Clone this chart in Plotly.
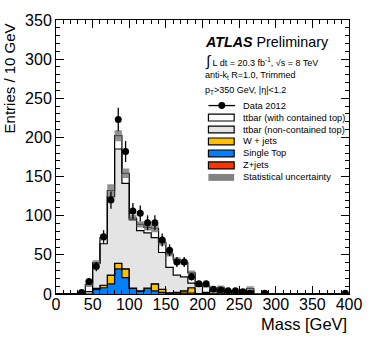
import plotly.graph_objects as go
import numpy as np

# 10 GeV bins from 0 to 400
edges = np.arange(0, 410, 10)

# per-bin yields (stacked increments)
single_top = [0, 0, 0, 0, 0, 6, 8, 13, 32, 21, 7, 3.5, 7, 4, 2, 1, 1, 1, 1, 0.5,
              0.5, 0.3, 0.3, 0, 0, 0, 0, 0, 0, 0, 0, 0, 0, 0, 0, 0, 0, 0, 0, 0]
w_jets = [0, 0, 0, 0, 0, 1, 3, 11, 7, 11, 0.5, 0.5, 0.5, 9, 4, 0.5, 1, 3, 7, 0,
          0, 0, 3, 0, 0, 0, 0, 0, 0, 0, 0, 0, 0, 0, 0, 0, 0, 0, 0, 0]
z_jets = [0, 0, 0, 0, 0, 0.2, 0.2, 0.2, 0.2, 0.2, 0.1, 0, 0, 0, 0, 0, 0, 0, 0, 0,
          0, 0, 0, 0, 0, 0, 0, 0, 0, 0, 0, 0, 0, 0, 0, 0, 0, 0, 0, 0]
ttbar_noncont = [0, 0, 0, 1, 3, 32, 53, 100, 146, 109, 87.5, 77, 70.5, 59, 47, 32.5, 22, 18, 6, 9.5,
                 1.5, 3.7, 2.7, 2, 1.5, 1, 4, 0.3, 0, 0, 0, 0, 0, 0, 0, 0, 0, 0, 0, 0]
ttbar_cont = [0, 0, 0, 0.5, 9, 1, 8, 8, 17, 13, 2, 8, 7, 12, 13, 17, 20, 18, 13, 3,
              8, 1, 2, 1, 1, 1, 3, 0.2, 0.2, 0, 0, 0, 0, 0, 0, 0, 0, 0, 0, 0]
stat_unc = [0, 0, 0, 1, 3, 3, 4, 8, 7, 6, 4, 4, 4, 5, 4, 3, 3, 3, 3, 2,
            2, 1.5, 3, 1, 1, 1, 3, 0.5, 0.3, 0, 0, 0, 0, 0, 0, 0, 0, 0, 0, 0]

data = [None, None, None, 2, 16, 35, 73, 120, 223, 182, 106, 103, 91, 91, 69, 56, 41, 41, 22, 13,
        13, 6, 5, 4, 4, 3, 1, None, 1, None, None, None, None, None, None, None, None, None, None, 1]
data_err = [0, 0, 0, 1.4, 4, 6, 8.5, 11, 15, 13.5, 10.3, 10.1, 9.5, 9.5, 8.3, 7.5, 6.4, 6.4, 4.7, 3.6,
            3.6, 2.4, 2.2, 2, 2, 1.7, 1, 0, 1, 0, 0, 0, 0, 0, 0, 0, 0, 0, 0, 1]

FONT = "Liberation Sans, Arial, Helvetica, sans-serif"
C_GRAY = "rgb(228,228,228)"
C_W = "rgb(255,192,0)"
C_ST = "rgb(0,128,255)"
C_Z = "rgb(255,51,0)"
C_UNC = "rgba(110,110,110,0.75)"


def step_y(vals):
    v = list(vals)
    return v + [v[-1]]


centers = edges[:-1] + 5
layers = [(single_top, C_ST), (w_jets, C_W), (z_jets, C_Z),
          (ttbar_noncont, C_GRAY), (ttbar_cont, "white")]

fig = go.Figure()
cum = np.zeros(40)
for i, (vals, col) in enumerate(layers):
    cum = cum + np.array(vals, dtype=float)
    fig.add_trace(go.Scatter(
        x=edges, y=step_y(cum), mode="lines", line_shape="hv",
        line=dict(color="black", width=1.2), fillcolor=col,
        fill="tozeroy" if i == 0 else "tonexty", hoverinfo="skip"))

total = cum
unc = np.array(stat_unc)
fig.add_trace(go.Scatter(x=edges, y=step_y(total - unc), mode="lines", line_shape="hv",
                         line=dict(width=0), hoverinfo="skip"))
fig.add_trace(go.Scatter(x=edges, y=step_y(total + unc), mode="lines", line_shape="hv",
                         line=dict(width=0), fill="tonexty", fillcolor=C_UNC, hoverinfo="skip"))

fig.add_trace(go.Scatter(
    x=centers, y=data, mode="markers",
    marker=dict(color="black", size=7),
    error_y=dict(type="data", array=data_err, color="black", thickness=1.3, width=0)))

# paper coordinates helpers (plot area 56..352 x 17..294 px)
L, R, T, B = 56, 22, 17, 57
W, H = 374, 351


def px(X):
    return (X - L) / (W - L - R)


def py(Y):
    return (H - B - Y) / (H - B - T)


ann = []
ann.append(dict(x=px(205), y=py(39), text="<b><i>ATLAS</i></b> Preliminary",
                font=dict(size=14.3), xanchor="left", yanchor="middle"))
ann.append(dict(x=px(204), y=py(58),
                text="<span style='font-size:15px'>∫</span> L dt = 20.3 fb<sup>-1</sup>, √s = 8 TeV",
                font=dict(size=9), xanchor="left", yanchor="middle"))
ann.append(dict(x=px(204), y=py(73), text="anti-k<sub>t</sub> R=1.0, Trimmed",
                font=dict(size=9), xanchor="left", yanchor="middle"))
ann.append(dict(x=px(204), y=py(88), text="p<sub>T</sub>&gt;350 GeV, |η|&lt;1.2",
                font=dict(size=9), xanchor="left", yanchor="middle"))

legend_rows = [
    ("Data 2012", None),
    ("ttbar (with contained top)", "white"),
    ("ttbar (non-contained top)", C_GRAY),
    ("W + jets", C_W),
    ("Single Top", C_ST),
    ("Z+jets", C_Z),
    ("Statistical uncertainty", "unc"),
]
shapes = []
row_y0, row_dy = 103.5, 12.1
for k, (label, col) in enumerate(legend_rows):
    yc = row_y0 + k * row_dy
    ann.append(dict(x=px(243), y=py(yc), text=label, font=dict(size=9.3),
                    xanchor="left", yanchor="middle"))
    if col is None:
        shapes.append(dict(type="line", xref="paper", yref="paper",
                           x0=px(210), x1=px(237), y0=py(yc), y1=py(yc),
                           line=dict(color="black", width=1.3)))
        shapes.append(dict(type="circle", xref="paper", yref="paper",
                           x0=px(220), x1=px(227), y0=py(yc + 3.5), y1=py(yc - 3.5),
                           fillcolor="black", line=dict(color="black", width=0)))
    elif col == "unc":
        shapes.append(dict(type="rect", xref="paper", yref="paper",
                           x0=px(210), x1=px(236), y0=py(yc + 3.5), y1=py(yc - 3.5),
                           fillcolor="rgb(130,130,130)", line=dict(width=0)))
    else:
        shapes.append(dict(type="rect", xref="paper", yref="paper",
                           x0=px(210), x1=px(236), y0=py(yc + 3.5), y1=py(yc - 3.5),
                           fillcolor=col, line=dict(color="black", width=1.2)))

# axis titles, ROOT style (right / top aligned)
ann.append(dict(x=1.0, y=py(324), text="Mass [GeV]", font=dict(size=16.5),
                xanchor="right", yanchor="middle"))
ann.append(dict(x=px(10), y=py(18), text="Entries / 10 GeV", font=dict(size=15),
                textangle=-90, xanchor="center", yanchor="top"))
for a in ann:
    a.update(xref="paper", yref="paper", showarrow=False)

axis_common = dict(showgrid=False, zeroline=False, showline=True, linecolor="black",
                   linewidth=1, mirror="allticks", ticks="inside", ticklen=8,
                   tickwidth=1, tickcolor="black", tickfont=dict(size=16, color="black"))

fig.update_layout(
    width=W, height=H,
    margin=dict(l=L, r=R, t=T, b=B),
    paper_bgcolor="white", plot_bgcolor="white",
    font=dict(family=FONT, color="black"),
    showlegend=False,
    annotations=ann, shapes=shapes,
    xaxis=dict(range=[0, 400], tick0=0, dtick=50, ticklabelstandoff=-4,
               minor=dict(ticks="inside", ticklen=4, dtick=10, tickcolor="black"),
               **axis_common),
    yaxis=dict(range=[0, 350], tick0=0, dtick=50,
               minor=dict(ticks="inside", ticklen=4, dtick=10, tickcolor="black"),
               **axis_common),
)

# drop the default page margin so the figure sits at the window corner
fig.write_html("out.html", config={"displayModeBar": False},
               post_script="document.body.style.margin='0';")
